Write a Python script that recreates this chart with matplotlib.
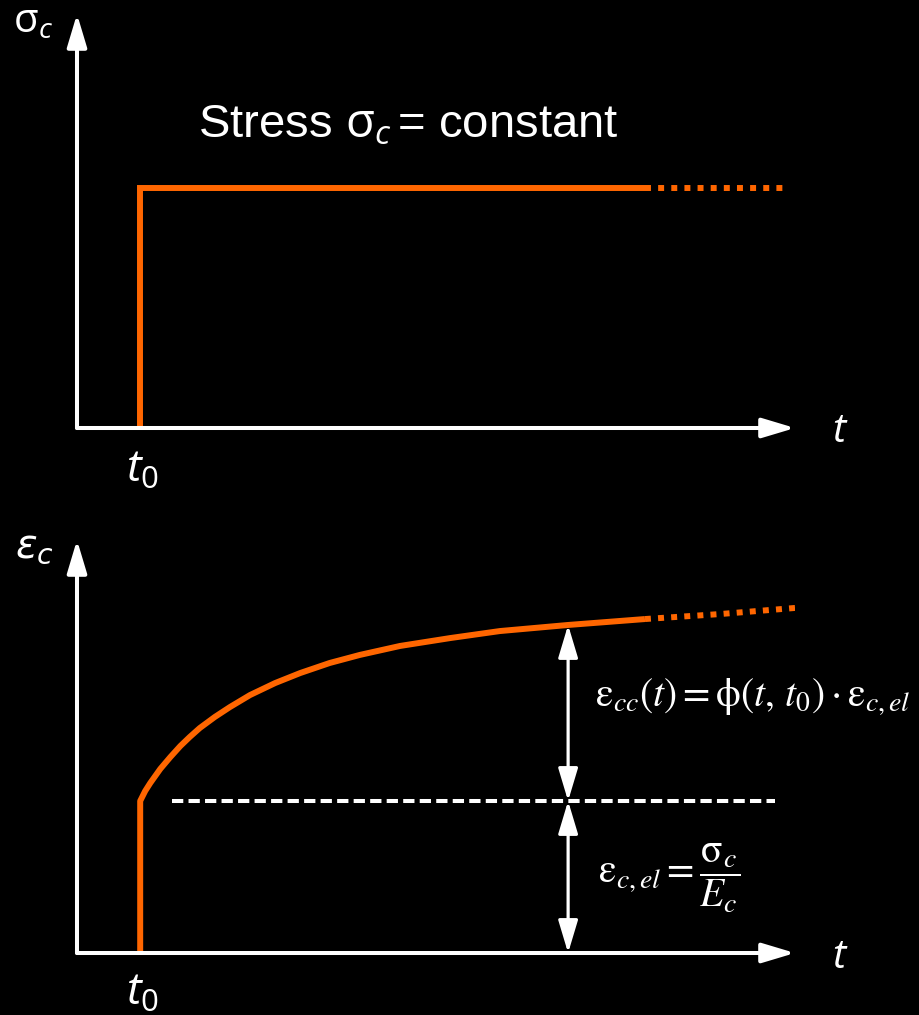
import matplotlib.pyplot as plt

plt.rcParams['mathtext.fontset'] = 'custom'
plt.rcParams['mathtext.rm'] = 'Open Sans'
plt.rcParams['mathtext.it'] = 'Open Sans:italic'
plt.rcParams['mathtext.bf'] = 'Open Sans:bold'

# loading history: constant stress applied at t0
t0 = 0.88
sigma_c = 1.0
t_stress_solid_end = 7.91
t_stress_end = 9.86

# strain response: elastic jump then creep
eps_el = 1.0
t_creep = [t0, 0.95, 1.02, 1.16, 1.30, 1.44, 1.57, 1.71, 1.92, 2.13,
           2.41, 2.76, 3.11, 3.52, 3.94, 4.50, 5.20, 5.89, 6.84, 7.91]
eps_creep = [1.0, 1.066, 1.118, 1.211, 1.289, 1.362, 1.421, 1.480, 1.553,
             1.618, 1.697, 1.776, 1.842, 1.908, 1.961, 2.020, 2.072, 2.118,
             2.158, 2.197]
t_creep_dotted = [7.91, 8.96, 10.0]
eps_creep_dotted = [2.197, 2.230, 2.270]
t_dashed = [1.32, 9.72]
t_measure = 6.84
eps_measure = 2.158

ORANGE = '#ff6600'
W, H = 919, 1015

fig = plt.figure(figsize=(W / 100, H / 100), dpi=100, facecolor='black')


def box(x0, y_bot, x1, y_top):
    return [x0 / W, 1 - y_bot / H, (x1 - x0) / W, (y_bot - y_top) / H]


ax1 = fig.add_axes(box(77, 428, 795, 14))
ax2 = fig.add_axes(box(77, 953, 795, 540))

axis_arrow = dict(arrowstyle='-|>,head_length=1.0,head_width=0.3',
                  mutation_scale=20, color='white', lw=2.9,
                  shrinkA=0, shrinkB=0)
for ax, ytop in ((ax1, 1.725), (ax2, 2.717)):
    ax.set_xlim(0, 10)
    ax.set_ylim(0, ytop)
    ax.axis('off')
    ax.set_facecolor('black')
    ax.annotate('', xy=(1, 0), xytext=(0, 0), xycoords='axes fraction',
                arrowprops=axis_arrow, zorder=5)
    ax.annotate('', xy=(0, 1), xytext=(0, 0), xycoords='axes fraction',
                arrowprops=axis_arrow, zorder=5)

# top: stress
ax1.plot([t0, t0, t_stress_solid_end], [0, sigma_c, sigma_c], color=ORANGE,
         lw=4.3, solid_joinstyle='miter', solid_capstyle='butt', zorder=3)
ax1.plot([t_stress_solid_end, t_stress_end], [sigma_c, sigma_c], color=ORANGE,
         lw=4.3, dashes=(1, 1.2), dash_capstyle='butt', zorder=3)

ax1.text(-0.89, 1.65, r'$\mathrm{\sigma}_{c}$', color='white', fontsize=29,
         ha='left', va='baseline')
ax1.text(1.685, 1.2125, r'Stress $\mathrm{\sigma}_{c}\,$= constant', color='white',
         fontsize=34, family='Liberation Sans', ha='left', va='baseline')
ax1.text(10.52, -0.058, r'$t$', color='white', fontsize=29, ha='left', va='baseline')
ax1.text(0.68, -0.225, r'$t_0$', color='white', fontsize=32, ha='left', va='baseline')

# bottom: strain
ax2.plot([t0] + t_creep, [0] + eps_creep, color=ORANGE, lw=4.3,
         solid_joinstyle='round', solid_capstyle='butt', zorder=3)
ax2.plot(t_creep_dotted, eps_creep_dotted, color=ORANGE, lw=4.3,
         dashes=(1, 1.2), dash_capstyle='butt', zorder=3)
ax2.plot(t_dashed, [eps_el, eps_el], color='white', lw=2.9,
         dashes=(2.8, 1.3), dash_capstyle='butt', zorder=2)

measure = dict(arrowstyle='<|-|>,head_length=1.0,head_width=0.3',
               mutation_scale=20, color='white', lw=2.3, shrinkA=0, shrinkB=0)
ax2.annotate('', xy=(t_measure, eps_measure), xytext=(t_measure, eps_el),
             arrowprops=measure, zorder=4)
ax2.annotate('', xy=(t_measure, eps_el), xytext=(t_measure, 0),
             arrowprops=measure, zorder=4)

ax2.text(-0.86, 2.605, r'$\varepsilon_{c}$', color='white', fontsize=29,
         ha='left', va='baseline', math_fontfamily='dejavusans')
ax2.text(10.52, -0.099, r'$t$', color='white', fontsize=29, ha='left', va='baseline')
ax2.text(0.68, -0.342, r'$t_0$', color='white', fontsize=32, ha='left', va='baseline')

ax2.text(7.21, 1.618,
         r'$\mathrm{\varepsilon}_{cc}(t) = \mathrm{\phi}(t,\, t_0)\cdot\mathrm{\varepsilon}_{c,el}$',
         color='white', fontsize=28.5, ha='left', va='baseline', math_fontfamily='stix')
ax2.text(7.25, 0.49,
         r'$\mathrm{\varepsilon}_{c,el} = \dfrac{\mathrm{\sigma}_c}{E_c}$',
         color='white', fontsize=28.5, ha='left', va='center', math_fontfamily='stix')

fig.savefig('out.png', facecolor='black')
